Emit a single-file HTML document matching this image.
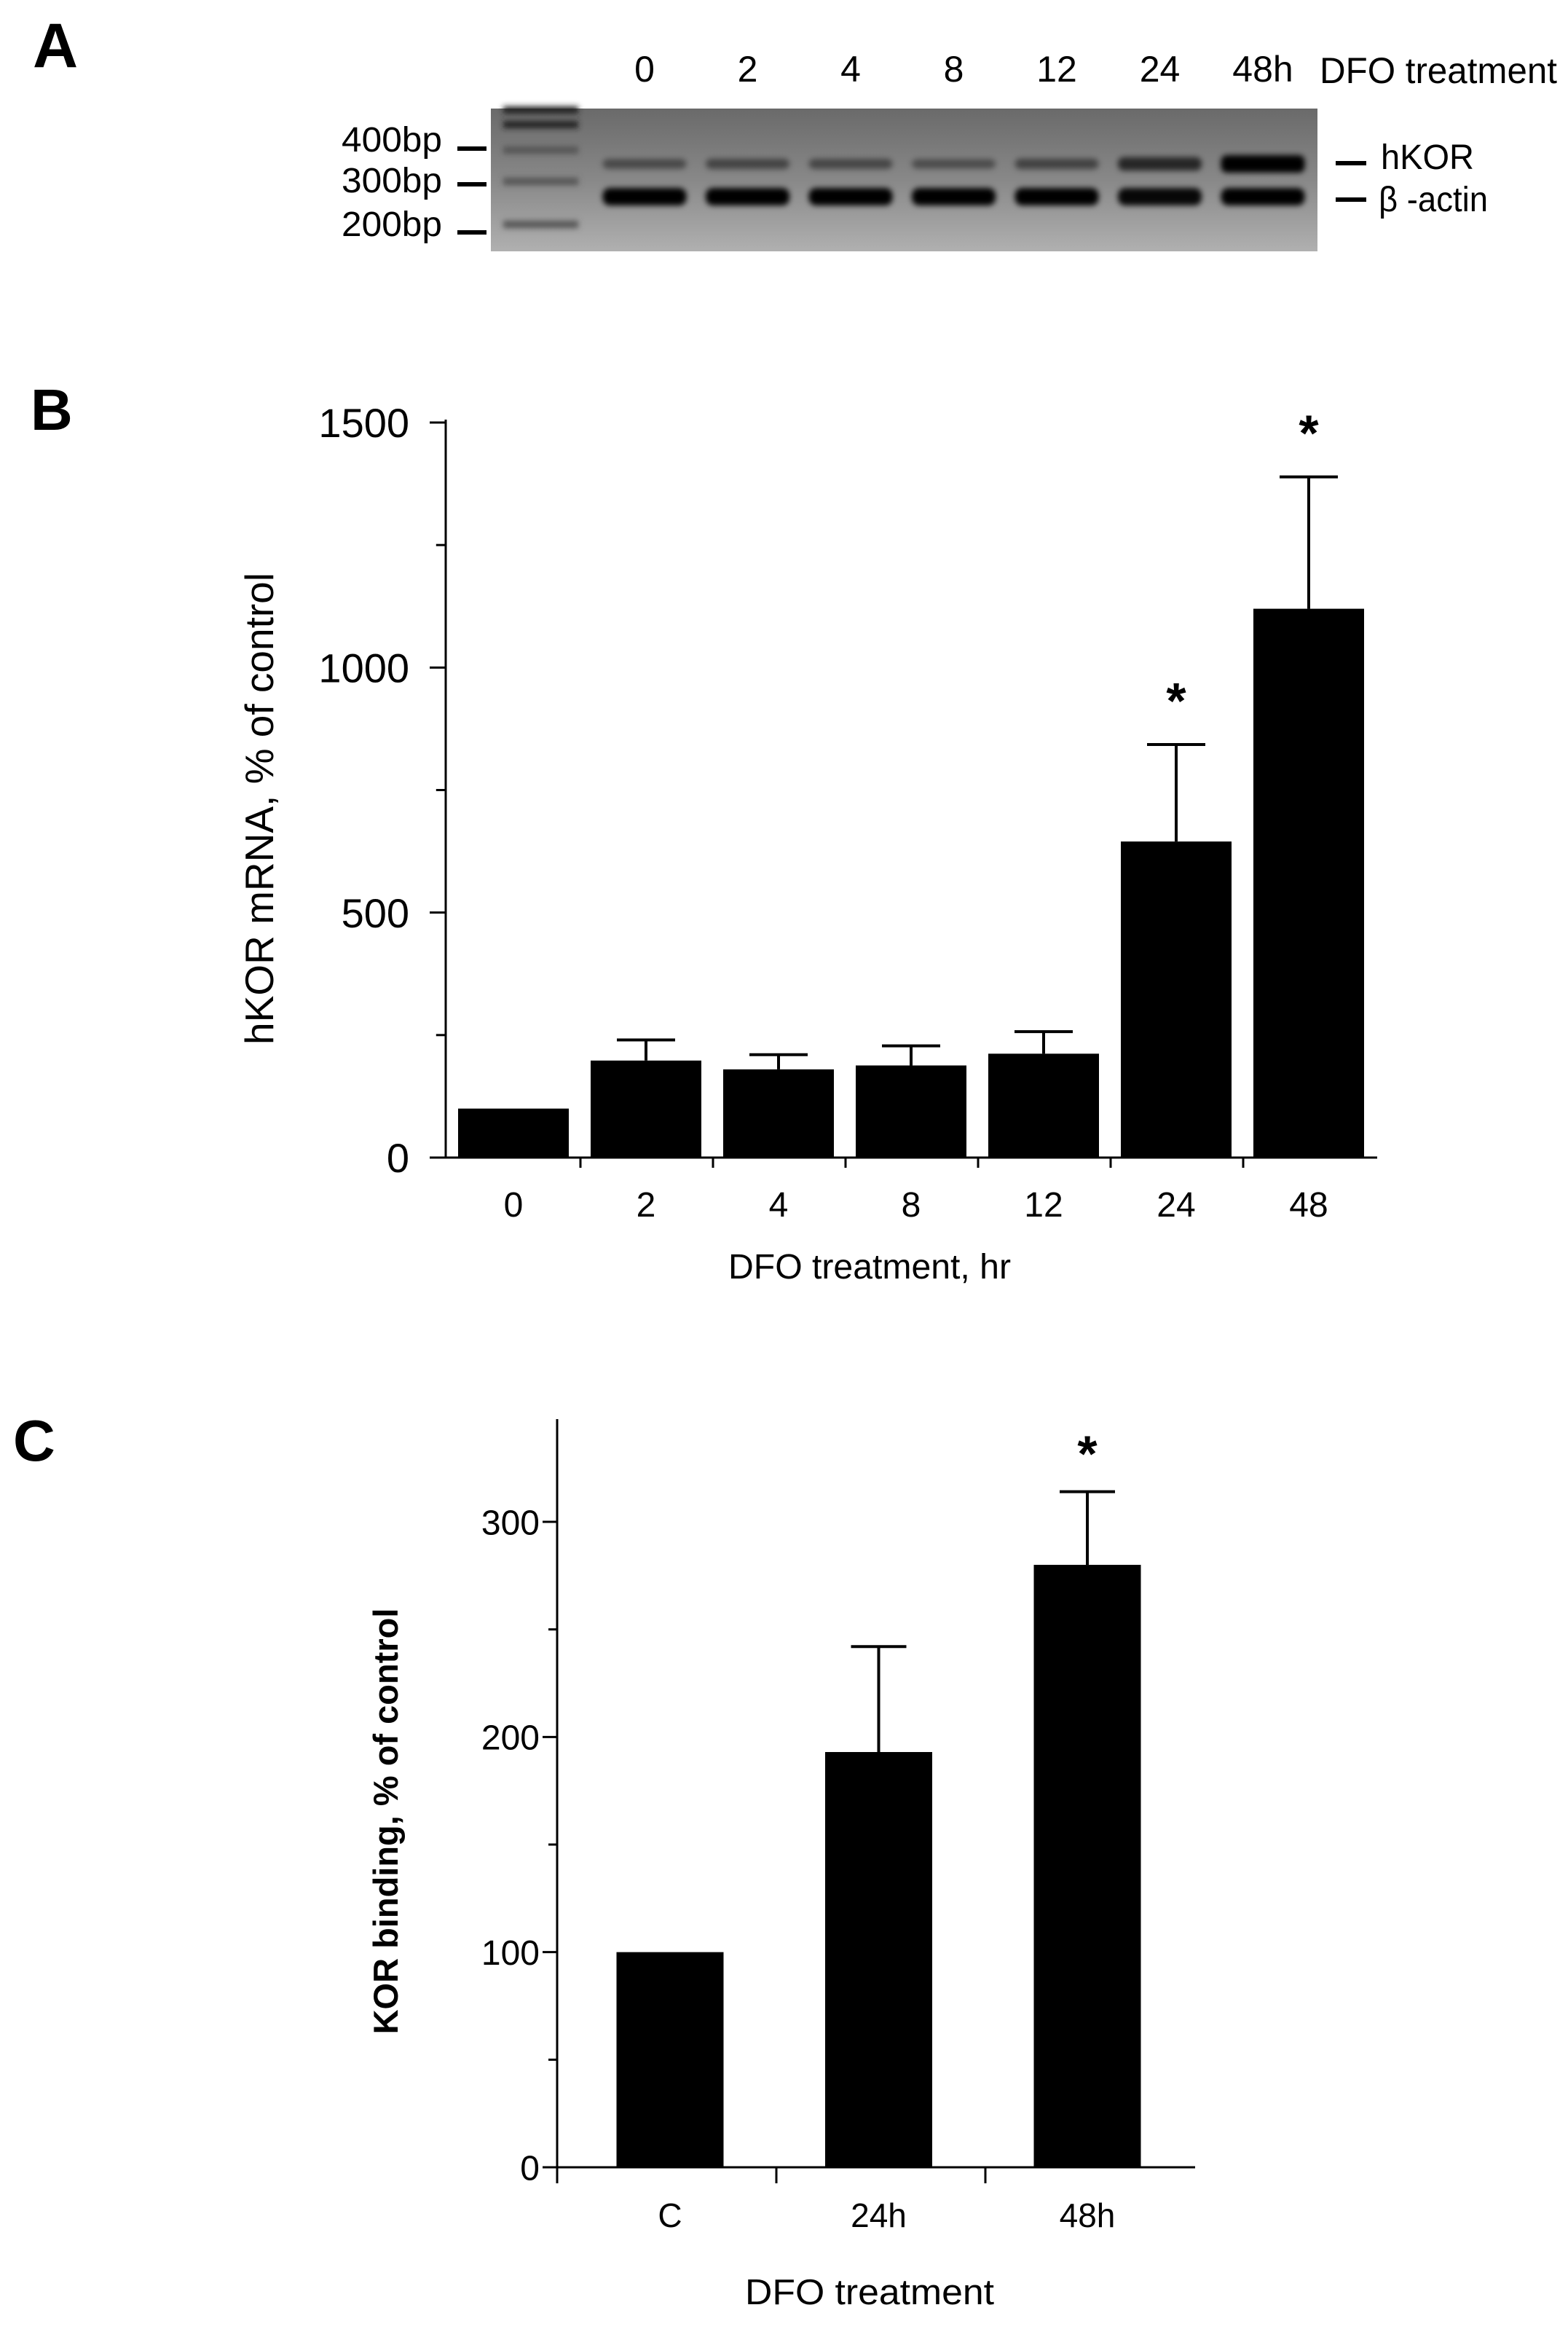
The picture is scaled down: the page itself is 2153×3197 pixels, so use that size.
<!DOCTYPE html>
<html><head><meta charset="utf-8"><style>
html,body{margin:0;padding:0;background:#fff;}
svg{display:block;font-family:"Liberation Sans",Arial,sans-serif;}
</style></head><body>
<svg id="fig" width="2153" height="3197" viewBox="0 0 2153 3197" xmlns="http://www.w3.org/2000/svg">
<defs>
<linearGradient id="gelbg" x1="0" y1="0" x2="0" y2="1">
<stop offset="0" stop-color="#6a6a6a"/><stop offset="0.5" stop-color="#888"/><stop offset="1" stop-color="#b0b0b0"/>
</linearGradient>
<filter id="blur" x="-20%" y="-50%" width="140%" height="200%"><feGaussianBlur stdDeviation="4"/></filter>
</defs>

<!-- Panel A -->
<g>
<text x="45" y="92" font-size="86" font-weight="bold">A</text>
<g id="laneLabels" font-size="50" text-anchor="middle"></g>
<text x="1812" y="114" font-size="50" textLength="326" lengthAdjust="spacingAndGlyphs">DFO treatment</text>
<rect x="674" y="149" width="1135" height="196" fill="url(#gelbg)"/>
<g id="gelBands" filter="url(#blur)"></g>
<g font-size="48" text-anchor="end">
<text x="607" y="208" textLength="138" lengthAdjust="spacingAndGlyphs">400bp</text>
<text x="607" y="264" textLength="138" lengthAdjust="spacingAndGlyphs">300bp</text>
<text x="607" y="324" textLength="138" lengthAdjust="spacingAndGlyphs">200bp</text>
<rect x="628" y="201" width="40" height="6" fill="#000"/>
<rect x="628" y="250" width="40" height="6" fill="#000"/>
<rect x="628" y="316" width="40" height="6" fill="#000"/>
</g>
<rect x="1834" y="221" width="42" height="6" fill="#000"/>
<text x="1896" y="232" font-size="48" textLength="128" lengthAdjust="spacingAndGlyphs">hKOR</text>
<rect x="1834" y="271" width="42" height="6" fill="#000"/>
<text x="1893" y="290" font-size="48" textLength="150" lengthAdjust="spacingAndGlyphs">β -actin</text>
</g>

<!-- Panel B -->
<g>
<text x="42" y="590" font-size="80" font-weight="bold">B</text>
<g id="chartB"></g>
<text transform="translate(375,1110) rotate(-90)" font-size="55" text-anchor="middle">hKOR mRNA,  % of control</text>
<text x="1194" y="1755" font-size="48" text-anchor="middle" textLength="388" lengthAdjust="spacingAndGlyphs">DFO treatment, hr</text>
</g>

<!-- Panel C -->
<g>
<text x="18" y="2005" font-size="80" font-weight="bold">C</text>
<g id="chartC"></g>
<text transform="translate(546,2500) rotate(-90)" font-size="47" font-weight="bold" text-anchor="middle">KOR binding, % of control</text>
<text x="1194" y="3163" font-size="49" text-anchor="middle" textLength="342" lengthAdjust="spacingAndGlyphs">DFO treatment</text>
</g>
</svg>
<script>
// Panel A data
const laneNames = ["0","2","4","8","12","24","48h"];
const hkorIntensity = [0.25,0.3,0.28,0.22,0.32,0.6,1.0];
const actinIntensity = [1,1,1,1,1,0.95,1];

// Panel B data
const catsB = ["0","2","4","8","12","24","48"];
const valsB = [100,198,180,188,212,645,1120];
const errB = [0,240,210,228,257,843,1389];
const sigB = [false,false,false,false,false,true,true];
const ticksB = [0,500,1000,1500];

// Panel C data
const catsC = ["C","24h","48h"];
const valsC = [100,193,280];
const errC = [0,242,314];
const sigC = [false,false,true];
const ticksC = [0,100,200,300];

const NS="http://www.w3.org/2000/svg";
function mk(tag, attrs, parent){const e=document.createElementNS(NS,tag);for(const k in attrs)e.setAttribute(k,attrs[k]);parent.appendChild(e);return e;}

// Gel
(function(){
  const lab=document.getElementById('laneLabels'), g=document.getElementById('gelBands');
  const x0=885, dx=141.5, w=115;
  [151,171,206,249,308].forEach((y,i)=>{
    const r=mk('rect',{x:691,y:y-5,width:103,height:10,fill:i<2?'#222':'#555'},g);
    
    
  });
  laneNames.forEach((n,i)=>{
    const cx=x0+i*dx;
    const t=mk('text',{x:cx,y:112},lab); t.textContent=n;
    
    
    const a=mk('rect',{x:cx-w/2,y:258,width:w,height:24,rx:10,fill:'#000','fill-opacity':actinIntensity[i]},g);
    
    
    const hv=hkorIntensity[i];
    const h=mk('rect',{x:cx-w/2,y:220-hv*7,width:w,height:10+hv*14,rx:8,fill:'#000','fill-opacity':0.25+hv*0.75},g);
    
    
  });
})();

function drawChart(id, cats, vals, errs, sig, ticks, o){
  const g=document.getElementById(id);
  const y=v=>o.y0-(v-o.vmin)/(o.vmax-o.vmin)*(o.y0-o.y1);
  const xc=i=>o.xFirst+i*o.step;
  mk('line',{x1:o.ax,y1:o.yTop,x2:o.ax,y2:o.y0+(o.yExt||0),stroke:'#000','stroke-width':o.lw},g);
  mk('line',{x1:o.ax-(o.xLeftExt||0),y1:o.y0,x2:o.axEnd,y2:o.y0,stroke:'#000','stroke-width':o.lw},g);
  ticks.forEach(t=>{
    const yy=y(t);
    mk('line',{x1:o.ax-o.tl,y1:yy,x2:o.ax,y2:yy,stroke:'#000','stroke-width':o.lw},g);
    const tx=mk('text',{x:o.ax-o.labGap,y:yy+o.fs*0.36,'font-size':o.fs,'text-anchor':'end'},g);
    tx.textContent=t;
    
    
  });
  for(let k=0;k<ticks.length-1;k++){
    const m=(ticks[k]+ticks[k+1])/2, yy=y(m);
    mk('line',{x1:o.ax-o.tl*0.6,y1:yy,x2:o.ax,y2:yy,stroke:'#000','stroke-width':o.lw},g);
  }
  cats.forEach((c,i)=>{
    const cx=xc(i);
    if(o.catTicks){
      const tk=o.catTicks(i);
      if(tk!==null) mk('line',{x1:tk,y1:o.y0,x2:tk,y2:o.y0+o.xtl,stroke:'#000','stroke-width':o.lw},g);
    }
    const b=mk('rect',{x:cx-o.bw/2,y:y(vals[i]),width:o.bw,height:o.y0-y(vals[i]),fill:'#000'},g);
    
    
    if(errs[i]>vals[i]){
      const e=mk('path',{d:`M${cx},${y(vals[i])}V${y(errs[i])}M${cx-o.cap},${y(errs[i])}H${cx+o.cap}`,stroke:'#000','stroke-width':o.elw,fill:'none'},g);
      
      
    }
    if(sig[i]){
      const s=mk('text',{x:cx,y:y(errs[i])-o.starGap,'font-size':70,'font-weight':'bold','text-anchor':'middle'},g);
      s.textContent='*';
      
      
    }
    const l=mk('text',{x:cx,y:o.xLabY,'font-size':o.xfs,'text-anchor':'middle'},g);
    l.textContent=c;
    
    
  });
}

drawChart('chartB',catsB,valsB,errB,sigB,ticksB,{
  ax:612,axEnd:1891,y0:1589,y1:580,yTop:576,vmin:0,vmax:1500,xFirst:705,step:182,bw:152,
  lw:3,tl:22,fs:56,labGap:50,cap:40,elw:4,starGap:36,xLabY:1670,xfs:48,xtl:14,xLeftExt:22,
  catTicks:i=>i<6?797+i*182:null
});
drawChart('chartC',catsC,valsC,errC,sigC,ticksC,{
  ax:765,axEnd:1641,y0:2975,y1:2089,yTop:1948,yExt:22,vmin:0,vmax:300,xFirst:920,step:286.5,bw:147,
  lw:3,tl:20,fs:48,labGap:24,cap:38,elw:4,starGap:28,xLabY:3057,xfs:46,xtl:22,xLeftExt:0,
  catTicks:i=>i===1?1066:(i===2?1353:null)
});
</script>
</body></html>
